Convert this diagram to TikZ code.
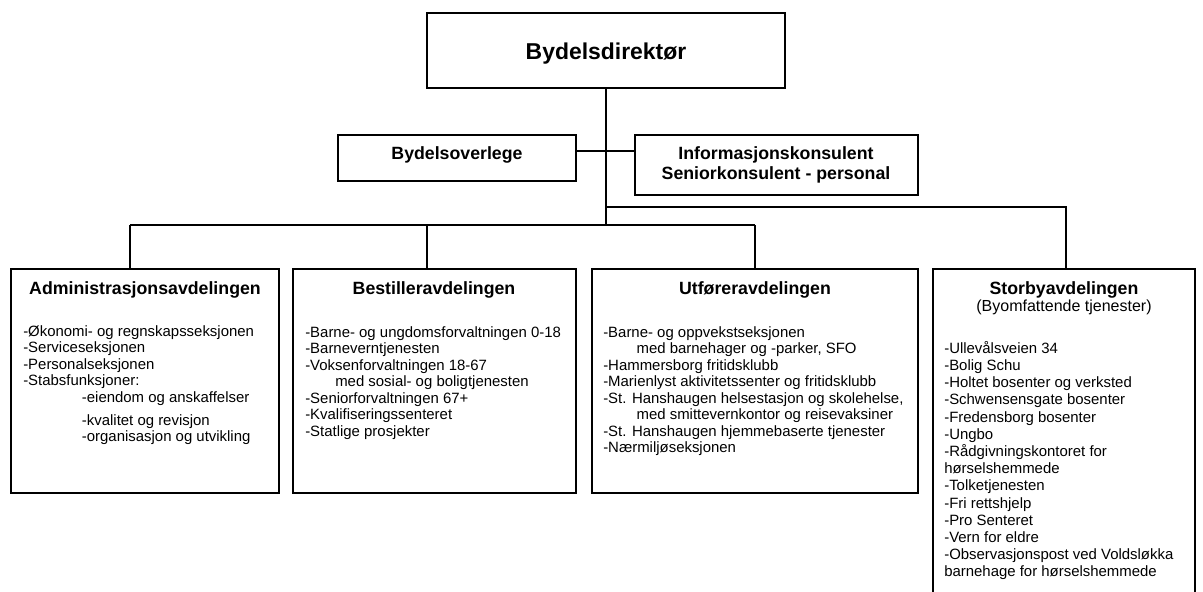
\documentclass[tikz,border=0pt]{standalone}
\usepackage{fontspec}
\setmainfont{Liberation Sans}
\usetikzlibrary{fit,shadows}
\begin{document}
\begin{tikzpicture}[x=0.75pt,y=-0.75pt,
  orgbox/.style={draw, line width=1.6pt, inner sep=0pt, fill=white,
    drop shadow={shadow xshift=0.8pt, shadow yshift=-0.8pt, fill=black, opacity=1}},
  conn/.style={line width=1.6pt},
  topfont/.style={font=\bfseries\fontsize{17.2}{20}\selectfont},
  headfont/.style={font=\bfseries\fontsize{13.3}{15.2}\selectfont, align=center},
  bodytext/.style={font=\fontsize{11.2}{12.4}\selectfont, align=left, anchor=north west, inner sep=0pt},
  storbytext/.style={font=\fontsize{11.2}{12.9}\selectfont, align=left, anchor=north west, inner sep=0pt},
  subfont/.style={font=\fontsize{12}{14}\selectfont}
]
\useasboundingbox (0,0) rectangle (1203,592);
\clip (0,0) rectangle (1203,592);
\fill[white] (0,0) rectangle (1203,592);

% junction coordinates
\coordinate (jSide) at (606,151);
\coordinate (jRight) at (606,207);
\coordinate (jBus) at (606,225);
\coordinate (bA) at (130,225);
\coordinate (bB) at (427,225);
\coordinate (bU) at (755,225);
\coordinate (bS) at (1066,207);

% connectors (drawn first, boxes on top)
\draw[conn] (606,88) -- (jBus);
\draw[conn] (jSide -| 576,0) -- (jSide -| 635,0);
\draw[conn] (jRight) -- (bS) -- (1066,269);
\draw[conn] (bA) -- (bU);
\draw[conn] (bA) -- (130,269);
\draw[conn] (bB) -- (427,269);
\draw[conn] (bU) -- (755,269);

% top boxes
\node[orgbox, fit={(427,13) (785,88)}] (dir) {};
\node[topfont, anchor=base] (dirT) at (606,60) {Bydelsdirektør};

\node[orgbox, fit={(338,135) (576,181)}] (overlege) {};
\node[headfont, anchor=base] (overlegeT) at (457,159) {Bydelsoverlege};

\node[orgbox, fit={(635,135) (918,195)}] (info) {};
\node[headfont, anchor=base] (infoT) at (776,159) {Informasjonskonsulent};
\node[headfont, anchor=base] (infoT2) at (776,179) {Seniorkonsulent - personal};

% department boxes
\node[orgbox, fit={(11,269) (279,493)}] (adm) {};
\node[orgbox, fit={(293,269) (576,493)}] (best) {};
\node[orgbox, fit={(592,269) (918,493)}] (utf) {};
\node[orgbox, fit={(933,269) (1195,640)}] (stor) {};

% connectors into boxes (named)
\draw[conn] (dir.south) -- (jBus);
\draw[conn] (overlege.east |- jSide) -- (info.west |- jSide);
\draw[conn] (bS) -- (bS |- stor.north);
\draw[conn] (bA) -- (bA |- adm.north);
\draw[conn] (bB) -- (bB |- best.north);
\draw[conn] (bU) -- (bU |- utf.north);

% titles
\node[headfont, anchor=base] (admT) at (145,294) {Administrasjonsavdelingen};
\node[headfont, anchor=base] (bestT) at (434,294) {Bestilleravdelingen};
\node[headfont, anchor=base] (utfT) at (755,294) {Utføreravdelingen};
\node[headfont, anchor=base] (storT) at (1064,294) {Storbyavdelingen};
\node[subfont, anchor=base] (storT2) at (1064,311) {(Byomfattende tjenester)};

% bodies
\node[bodytext] (admB) at (23,325) {-Økonomi- og regnskapsseksjonen\\
-Serviceseksjonen\\
-Personalseksjonen\\
-Stabsfunksjoner:\\
\hspace*{44pt}-eiendom og anskaffelser\\[5pt]
\hspace*{44pt}-kvalitet og revisjon\\
\hspace*{44pt}-organisasjon og utvikling};

\node[bodytext] (bestB) at (305,326) {-Barne- og ungdomsforvaltningen 0-18\\
-Barneverntjenesten\\
-Voksenforvaltningen 18-67\\
\hspace*{22.5pt}med sosial- og boligtjenesten\\
-Seniorforvaltningen 67+\\
-Kvalifiseringssenteret\\
-Statlige prosjekter};

\node[bodytext] (utfB) at (603,326) {-Barne- og oppvekstseksjonen\\
\hspace*{25pt}med barnehager og -parker, SFO\\
-Hammersborg fritidsklubb\\
-Marienlyst aktivitetssenter og fritidsklubb\\
-St. Hanshaugen helsestasjon og skolehelse,\\
\hspace*{25pt}med smittevernkontor og reisevaksiner\\
-St. Hanshaugen hjemmebaserte tjenester\\
-Nærmiljøseksjonen};

\node[storbytext] (storB) at (944,341) {-Ullevålsveien 34\\
-Bolig Schu\\
-Holtet bosenter og verksted\\
-Schwensensgate bosenter\\
-Fredensborg bosenter\\
-Ungbo\\
-Rådgivningskontoret for\\
hørselshemmede\\
-Tolketjenesten\\
-Fri rettshjelp\\
-Pro Senteret\\
-Vern for eldre\\
-Observasjonspost ved Voldsløkka\\
barnehage for hørselshemmede};
\end{tikzpicture}
\end{document}
